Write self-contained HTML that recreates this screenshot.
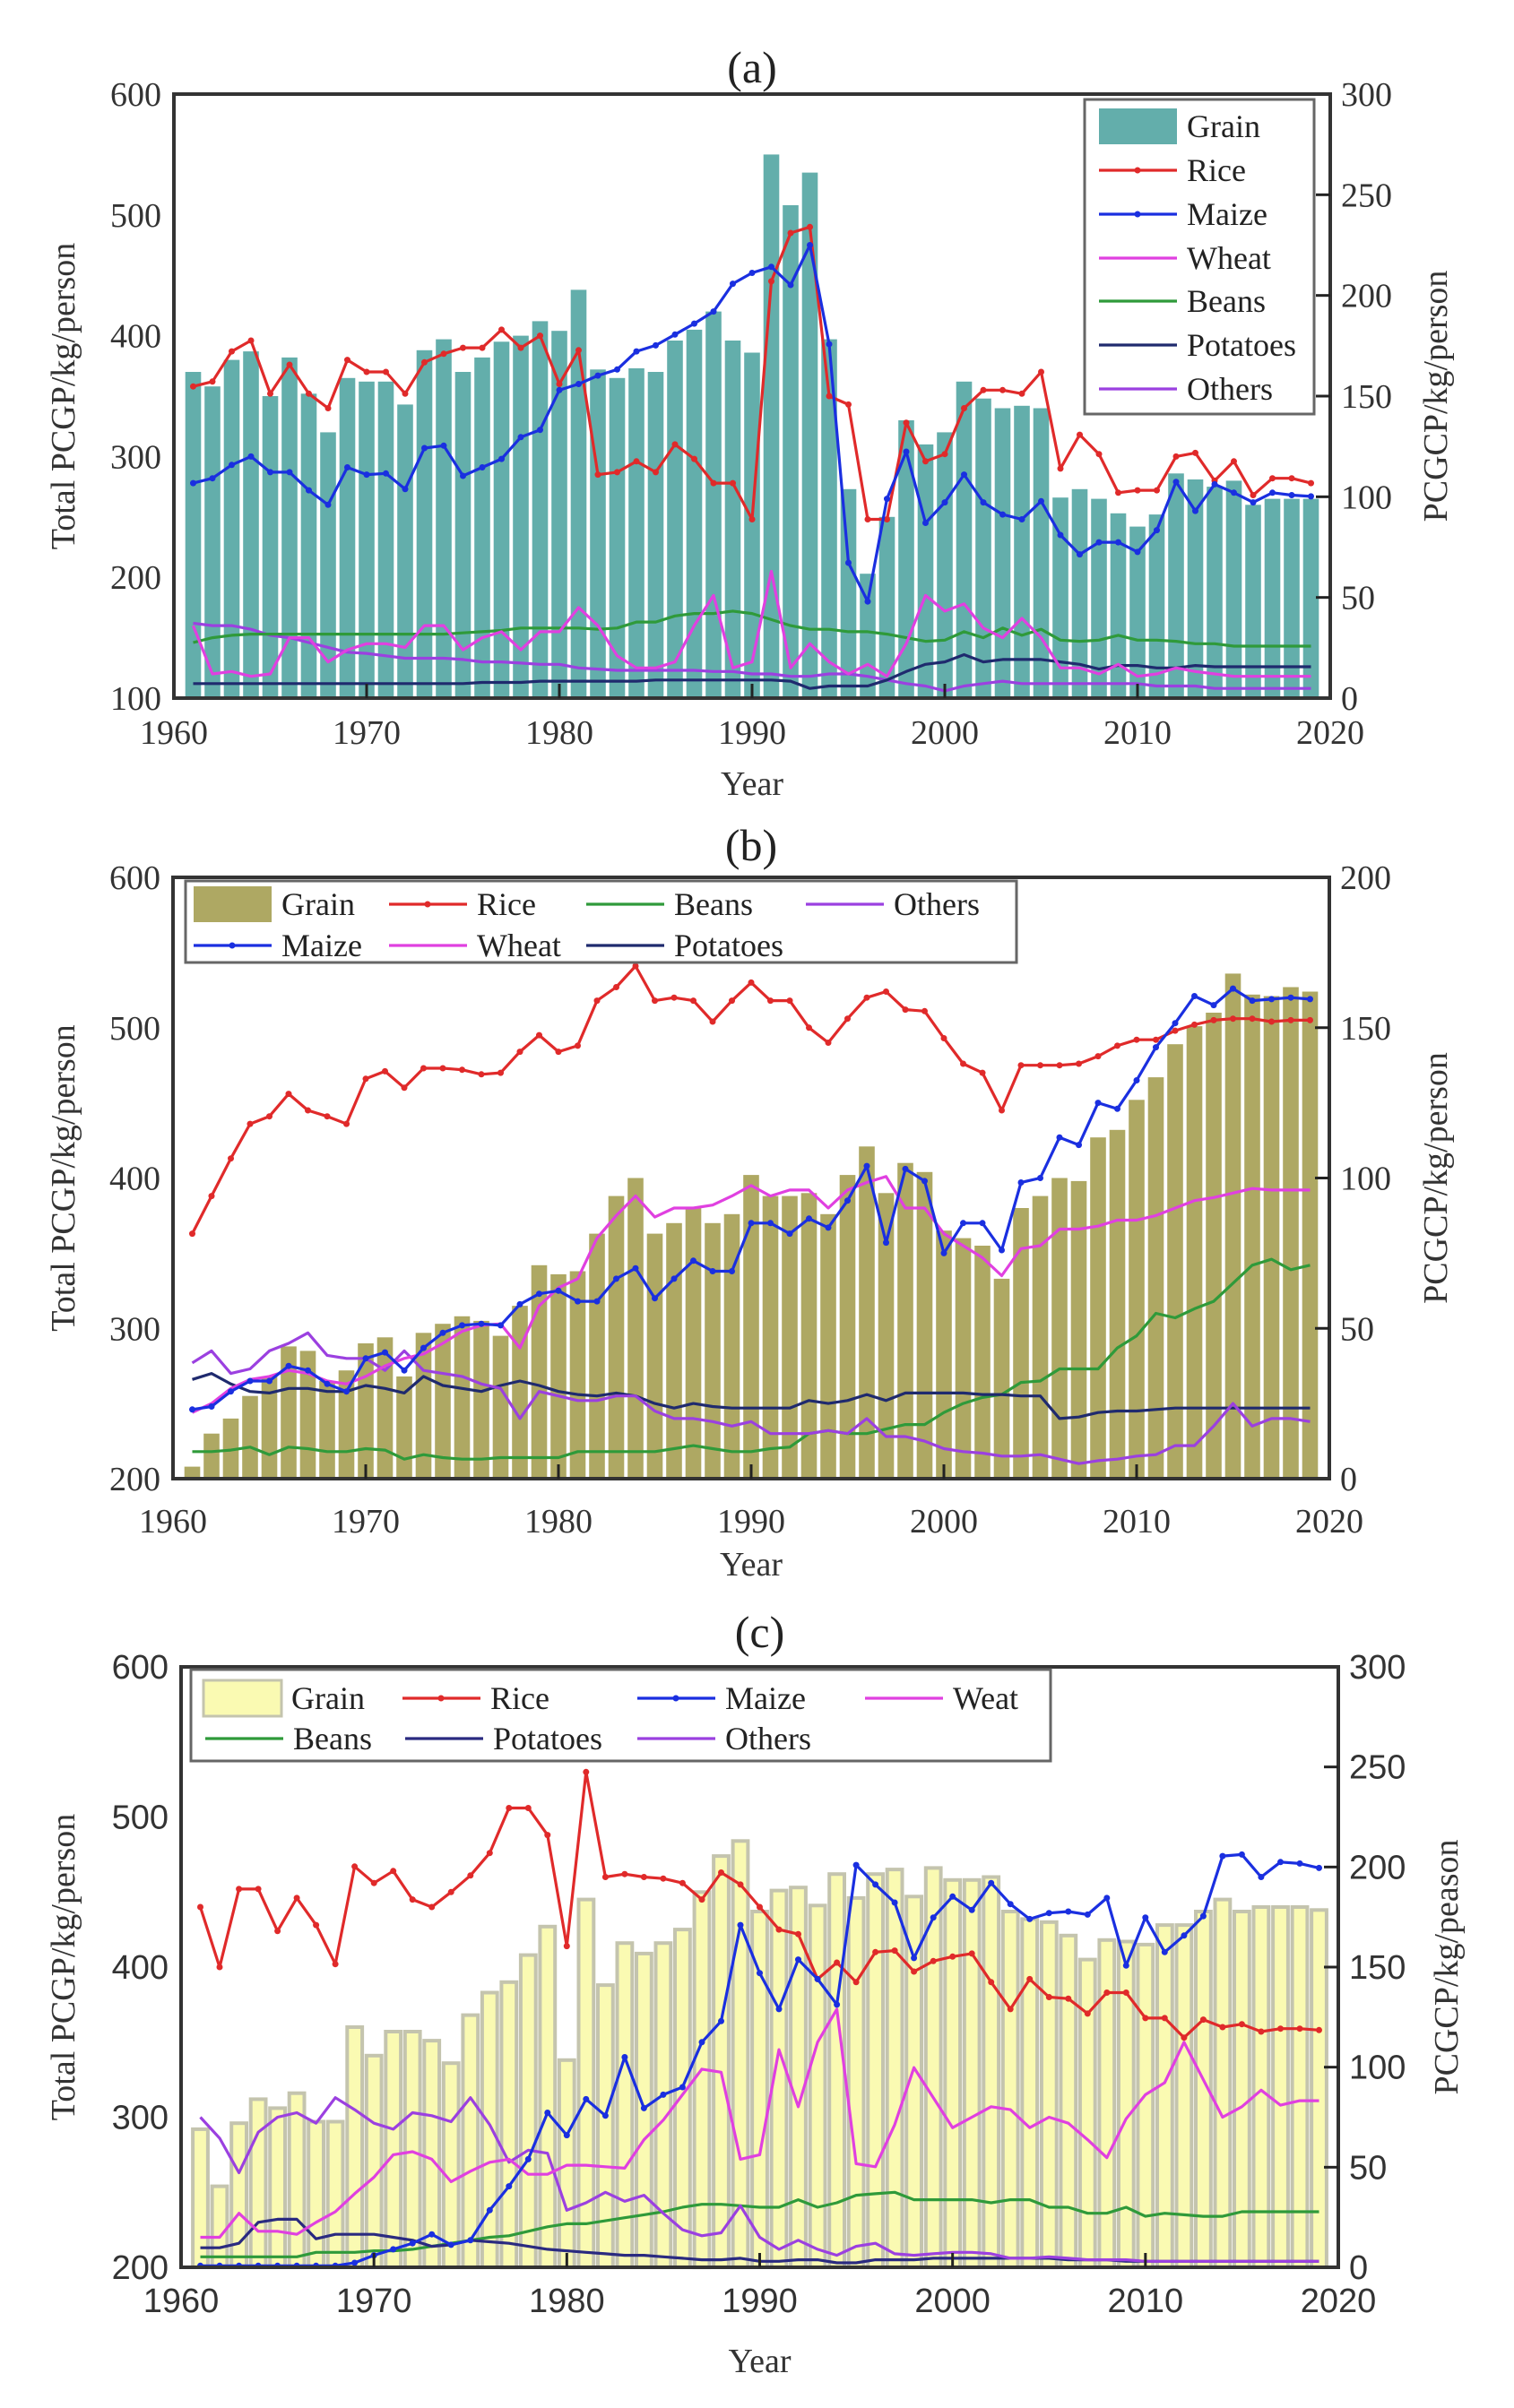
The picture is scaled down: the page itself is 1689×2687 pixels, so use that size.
<!DOCTYPE html>
<html><head><meta charset="utf-8">
<style>
html,body{margin:0;padding:0;background:#fff;}
svg{display:block;}
</style></head>
<body>
<svg id="s" xmlns="http://www.w3.org/2000/svg" width="1689" height="2687" viewBox="0 0 1689 2687"></svg>
<script>
const S=document.getElementById('s');
let out='';
function yr(a){const o=[];for(let i=0;i<a.length;i++)o.push(a[i]);return o;}
const P=[
{ // a
 L:194,R:1484,T:105,B:779,ymin:100,ymax:600,rmax:300,rstep:50,lstep:100,
 title:'(a)',ty:75,tickY:817,yearY:874,ylx:71,yrx:1602,rlabel:'PCGCP/kg/person',serif:true,
 bar:'#63aeab',gap:'#ffffff',barStroke:null,
 grain:[370,358,380,387,350,382,352,320,365,362,362,343,388,397,370,382,395,400,412,404,438,372,365,373,370,396,405,420,396,386,550,508,535,397,273,203,250,330,310,320,362,348,340,342,340,266,273,265,253,242,252,286,281,275,280,260,265,265,265],
 series:[
  ['#5a3fd0',[162,160,160,157,152,150,146,142,138,137,135,133,133,133,132,130,130,129,128,128,125,124,123,123,123,123,123,122,122,120,120,118,118,120,120,118,115,112,110,106,110,112,114,112,112,112,112,112,112,112,110,110,110,108,108,108,108,108,108],0,'#9b40e0'],
  ['#1f2a6e',[112,112,112,112,112,112,112,112,112,112,112,112,112,112,112,113,113,113,114,114,114,114,114,114,115,115,115,115,115,115,115,114,108,110,110,110,115,122,128,130,136,130,132,132,132,130,128,124,127,127,125,125,127,126,126,126,126,126,126],0],
  ['#2f9a3a',[146,150,152,153,153,153,153,153,153,153,153,153,153,153,154,155,156,158,158,158,158,157,158,163,163,168,170,170,172,170,165,160,157,157,155,155,153,150,147,148,155,150,158,152,157,148,147,148,152,148,148,147,145,145,143,143,143,143,143],0],
  ['#e040e0',[160,120,122,118,120,150,150,130,140,145,145,142,160,160,140,150,155,140,155,155,175,160,135,125,125,130,160,185,125,130,205,125,145,130,120,128,118,145,185,172,178,158,150,166,150,125,125,120,128,118,120,125,122,120,118,118,118,118,118],0],
  ['#e02a2a',[358,362,387,396,352,376,352,340,380,370,370,352,378,385,390,390,405,390,400,360,388,285,287,296,287,310,298,278,278,248,445,485,490,350,343,248,248,328,296,302,340,355,355,352,370,290,318,302,270,272,272,300,303,280,296,268,282,282,278],1],
  ['#1a2fe0',[278,282,293,300,287,287,272,260,291,285,286,273,307,309,284,291,298,316,322,355,360,367,372,387,392,401,410,420,443,452,457,442,475,393,212,180,265,304,245,262,285,262,252,248,263,235,219,229,229,221,239,279,255,277,270,262,270,268,267],1]
 ],
 legend:{box:[1210,111,256,351],items:[
  ['bar','Grain',1226,141],['#e02a2a','Rice',1226,190,1],['#1a2fe0','Maize',1226,239,1],['#e040e0','Wheat',1226,288],['#2f9a3a','Beans',1226,336],['#1f2a6e','Potatoes',1226,385],['#9b40e0','Others',1226,434]]}
},
{ // b
 L:193,R:1483,T:979,B:1650,ymin:200,ymax:600,rmax:200,rstep:50,lstep:100,
 title:'(b)',ty:943,tickY:1697,yearY:1745,ylx:71,yrx:1602,rlabel:'PCGCP/kg/person',serif:true,
 bar:'#aea863',gap:'#f4f0d8',barStroke:null,
 grain:[208,230,240,255,268,288,285,265,272,290,294,268,297,303,308,305,295,315,342,336,338,363,388,400,363,370,380,370,376,402,388,388,390,376,402,421,390,410,404,365,360,355,333,380,388,400,398,427,432,452,467,489,501,510,536,522,521,527,524],
 series:[
  ['#2f9a3a',[218,218,219,221,216,221,220,218,218,220,219,213,216,214,213,213,214,214,214,214,218,218,218,218,218,220,222,220,218,218,220,221,230,232,230,230,233,236,236,244,250,254,256,264,265,273,273,273,287,295,310,307,313,318,330,342,346,339,342],0],
  ['#1f2a6e',[266,270,263,258,257,260,260,258,258,262,260,257,268,262,260,258,262,265,262,258,256,255,257,255,250,247,250,248,247,247,247,247,252,250,252,256,252,257,257,257,257,256,256,255,255,240,241,244,245,245,246,247,247,247,247,247,247,247,247],0],
  ['#9b40e0',[277,285,270,273,285,290,297,282,280,280,272,285,272,270,268,263,260,240,258,255,252,252,255,255,245,240,240,238,235,238,230,230,230,232,230,240,228,228,225,220,218,217,215,215,216,213,210,212,213,215,216,222,222,235,250,235,240,240,238],0],
  ['#e040e0',[244,250,260,266,268,272,270,265,263,268,275,280,283,290,298,302,303,287,315,327,333,360,375,388,374,380,380,382,388,395,388,392,392,380,392,397,401,380,380,363,355,347,335,353,355,366,366,368,372,372,375,380,385,387,390,393,392,392,392],0],
  ['#e02a2a',[363,388,413,436,441,456,445,441,436,466,471,460,473,473,472,469,470,484,495,484,488,518,527,541,518,520,518,504,518,530,518,518,500,490,506,520,524,512,511,493,476,470,445,475,475,475,476,481,488,492,492,498,502,505,506,506,504,505,505],1],
  ['#1a2fe0',[246,248,258,265,265,275,272,263,258,280,284,272,287,297,302,303,302,316,323,325,318,318,333,340,320,333,345,338,338,370,370,363,373,367,385,408,357,406,398,350,370,370,352,397,400,427,422,450,446,465,487,503,521,515,526,518,519,520,519],1]
 ],
 legend:{box:[207,983,927,91],items:[
  ['bar','Grain',216,1009],['#e02a2a','Rice',434,1009,1],['#2f9a3a','Beans',654,1009],['#9b40e0','Others',899,1009],
  ['#1a2fe0','Maize',216,1055,1],['#e040e0','Wheat',434,1055],['#1f2a6e','Potatoes',654,1055]]}
},
{ // c
 L:202,R:1493,T:1860,B:2530,ymin:200,ymax:600,rmax:300,rstep:50,lstep:100,
 title:'(c)',ty:1821,tickY:2567,yearY:2634,ylx:71,yrx:1614,rlabel:'PCGCP/kg/peason',serif:false,
 bar:'#fafab2',gap:'#c8c8b4',barStroke:'#c4c4ae',
 grain:[292,254,296,312,306,316,297,297,360,341,357,357,351,336,368,383,390,408,427,338,445,388,416,409,416,425,450,474,484,437,451,453,441,462,446,462,465,447,466,458,458,460,437,432,430,421,405,418,417,415,428,428,437,445,437,440,440,440,438],
 series:[
  ['#2f9a3a',[207,207,207,207,207,207,210,210,210,211,211,212,214,216,218,220,221,224,227,229,229,231,233,235,237,240,242,242,241,240,240,245,240,243,248,249,250,245,245,245,245,243,245,245,240,240,236,236,240,234,236,235,234,234,237,237,237,237,237],0],
  ['#2a2a80',[213,213,216,230,232,232,219,222,222,222,220,218,214,215,218,217,216,214,212,211,210,209,208,208,207,206,205,205,206,204,204,205,205,203,203,205,205,205,206,206,206,206,206,206,206,205,205,205,204,204,204,204,204,204,204,204,204,204,204],0],
  ['#9b40e0',[300,286,263,290,300,303,296,313,305,296,292,303,301,297,313,295,270,278,276,238,243,250,244,248,236,225,221,223,241,220,212,218,212,208,214,216,209,208,209,210,210,209,206,206,207,206,205,205,205,204,204,204,204,204,204,204,204,204,204],0],
  ['#e040e0',[220,220,236,224,224,222,230,237,249,260,275,277,272,257,264,270,272,262,262,268,268,267,266,285,298,315,332,330,272,275,345,307,350,372,269,267,295,333,313,293,300,307,305,293,300,296,285,273,299,315,323,350,325,300,307,318,308,311,311],0],
  ['#e02a2a',[440,400,452,452,424,446,428,402,467,456,464,445,440,450,461,476,506,506,488,414,530,460,462,460,459,456,445,463,455,440,425,422,392,403,390,410,411,397,404,407,409,390,372,392,380,379,369,383,383,366,366,353,365,360,362,357,359,359,358],1],
  ['#1a2fe0',[201,201,201,201,201,201,201,201,203,208,212,216,222,215,218,238,254,272,303,288,312,301,340,306,315,320,350,364,428,396,372,405,392,375,468,455,443,406,433,447,438,456,442,432,436,437,435,446,401,433,410,421,434,474,475,460,470,469,466],1]
 ],
 legend:{box:[213,1863,959,102],items:[
  ['bar','Grain',227,1895],['#e02a2a','Rice',449,1895,1],['#1a2fe0','Maize',711,1895,1],['#e040e0','Weat',965,1895],
  ['#2f9a3a','Beans',229,1940],['#2a2a80','Potatoes',452,1940],['#9b40e0','Others',711,1940]]}
}];
const SERIF='"Liberation Serif",serif', SANS='"Liberation Sans",sans-serif';
P.forEach(p=>{
 const W=p.R-p.L,H=p.B-p.T;
 const X=y=>p.L+(y-1960)/60*W;
 const Y=v=>p.B-(v-p.ymin)/(p.ymax-p.ymin)*H;
 const ff=p.serif?SERIF:SANS;
 const dx=W/60;
 // bars
 p.grain.forEach((v,i)=>{
  const x=X(1961+i);const bw=p.barStroke?dx*0.78:dx*0.82;
  out+=`<rect x="${(x-bw/2).toFixed(1)}" y="${Y(v).toFixed(1)}" width="${bw.toFixed(1)}" height="${(p.B-Y(v)).toFixed(1)}" fill="${p.bar}"${p.barStroke?` stroke="${p.barStroke}" stroke-width="4"`:''}/>`;
 });
 // lines
 p.series.forEach(s=>{
  const pts=s[1].map((v,i)=>X(1961+i).toFixed(1)+','+Y(v).toFixed(1)).join(' ');
  out+=`<polyline points="${pts}" fill="none" stroke="${s[3]||s[0]}" stroke-width="3.2" stroke-linejoin="round"/>`;
  if(s[2]) s[1].forEach((v,i)=>{out+=`<circle cx="${X(1961+i).toFixed(1)}" cy="${Y(v).toFixed(1)}" r="3.5" fill="${s[0]}"/>`;});
 });
 // frame
 out+=`<rect x="${p.L}" y="${p.T}" width="${W}" height="${H}" fill="none" stroke="#333" stroke-width="4"/>`;
 // x ticks
 for(let y=1960;y<=2020;y+=10){
  const x=X(y);
  if(y>1960&&y<2020) out+=`<line x1="${x}" y1="${p.B}" x2="${x}" y2="${p.B-16}" stroke="#222" stroke-width="3"/>`;
  out+=`<text x="${x}" y="${p.tickY+13}" font-family='${ff}' font-size="38" text-anchor="middle" fill="#333">${y}</text>`;
 }
 // left labels
 for(let v=p.ymin;v<=p.ymax;v+=p.lstep){
  out+=`<text x="${p.L-14}" y="${Y(v)+13}" font-family='${ff}' font-size="38" text-anchor="end" fill="#333">${v}</text>`;
 }
 // right ticks
 for(let r=0;r<=p.rmax;r+=p.rstep){
  const y=p.B-r/p.rmax*H;
  if(r>0&&r<p.rmax) out+=`<line x1="${p.R}" y1="${y}" x2="${p.R-16}" y2="${y}" stroke="#222" stroke-width="3"/>`;
  out+=`<text x="${p.R+12}" y="${y+13}" font-family='${ff}' font-size="38" text-anchor="start" fill="#333">${r}</text>`;
 }
 out+=`<text x="${(p.L+p.R)/2}" y="${p.ty+17}" font-family='${SERIF}' font-size="50" text-anchor="middle" fill="#222">${p.title}</text>`;
 out+=`<text x="${(p.L+p.R)/2}" y="${p.yearY+13}" font-family='${SERIF}' font-size="38" text-anchor="middle" fill="#333">Year</text>`;
 const cy=(p.T+p.B)/2;
 out+=`<text transform="translate(${p.ylx+12},${cy}) rotate(-90)" font-family='${SERIF}' font-size="38" text-anchor="middle" fill="#333">Total PCGP/kg/person</text>`;
 out+=`<text transform="translate(${p.yrx+12},${cy}) rotate(-90)" font-family='${SERIF}' font-size="38" text-anchor="middle" fill="#333">${p.rlabel}</text>`;
 // legend
 const b=p.legend.box;
 out+=`<rect x="${b[0]}" y="${b[1]}" width="${b[2]}" height="${b[3]}" fill="#fff" stroke="#666" stroke-width="3"/>`;
 p.legend.items.forEach(it=>{
  const [c,t,x,y,m]=it;
  if(c==='bar'){
   out+=`<rect x="${x}" y="${y-20}" width="87" height="40" fill="${p.bar}"${p.barStroke?` stroke="${p.barStroke}" stroke-width="3"`:''}/>`;
  } else {
   out+=`<line x1="${x}" y1="${y}" x2="${x+87}" y2="${y}" stroke="${c}" stroke-width="3.2"/>`;
   if(m) out+=`<circle cx="${x+43}" cy="${y}" r="3.5" fill="${c}"/>`;
  }
  out+=`<text x="${x+98}" y="${y+12}" font-family='${SERIF}' font-size="36" fill="#222">${t}</text>`;
 });
});
S.innerHTML=out;
</script>
</body></html>
